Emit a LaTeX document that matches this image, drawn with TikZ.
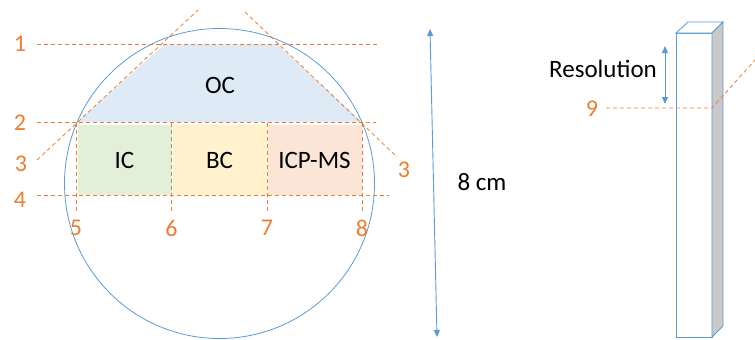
\documentclass[tikz,border=0pt]{standalone}
\usepackage{fontspec}
\setmainfont{Carlito}
\usetikzlibrary{arrows.meta}
\definecolor{orng}{HTML}{ED7D31}
\definecolor{blu}{HTML}{5B9BD5}
\definecolor{ocfill}{HTML}{DEEBF7}
\definecolor{icfill}{HTML}{E2F0D9}
\definecolor{bcfill}{HTML}{FFF2CC}
\definecolor{msfill}{HTML}{FBE5D6}
\definecolor{sidegray}{HTML}{C9C9C9}
\begin{document}
\begin{tikzpicture}[x=1pt,y=-1pt,
  orgdash/.style={draw=orng, line width=0.8pt, dash pattern=on 4pt off 3pt},
  num/.style={text=orng, font=\fontsize{24}{26}\selectfont, inner sep=0pt},
  lbl/.style={text=black, font=\fontsize{25}{28}\selectfont, inner sep=0pt},
  zone/.style={rectangle, inner sep=0pt, minimum width=94pt, minimum height=70pt, font=\fontsize{25}{28}\selectfont},
  bluarrow/.style={draw=blu, line width=0.9pt, {Triangle[width=6pt,length=7pt]}-{Triangle[width=6pt,length=7pt]}}
]
\useasboundingbox (0,0) rectangle (755,340);

% OC trapezoid
\fill[ocfill] (165,44) -- (277,44) -- (362,122) -- (77,122) -- cycle;
\node[lbl] (oc) at (220,85) {OC};

% zones
\node[zone, fill=icfill] (ic) at (124.5,160) {IC};
\node[zone, fill=bcfill] (bc) at (219.5,160) {BC};
\node[zone, fill=msfill] (ms) at (314.5,160) {ICP-MS};

% circle
\node[circle, draw=blu, line width=0.8pt, minimum size=310pt, inner sep=0pt] (disc) at (219.5,183.5) {};

% horizontal labels and lines
\node[num] (l1) at (20,44) {1};
\node[num] (l2) at (20,123) {2};
\node[num] (l3) at (21,164) {3};
\node[num] (l4) at (20,200) {4};
\node[num] (r3) at (404,170) {3};

\coordinate (h1a) at (37,44);  \coordinate (h1b) at (377,44);
\coordinate (h2a) at (37,122); \coordinate (h2b) at (376,122);
\coordinate (h4a) at (37,195); \coordinate (h4b) at (389,195);
\draw[orgdash] (h1a) -- (h1b);
\draw[orgdash] (h2a) -- (h2b);
\draw[orgdash] (h4a) -- (h4b);

% diagonals
\coordinate (d1a) at (37,160); \coordinate (d1b) at (198,10);
\coordinate (d2a) at (245,12); \coordinate (d2b) at (397,157);
\draw[orgdash] (d1a) -- (d1b);
\draw[orgdash] (d2a) -- (d2b);

% vertical lines and labels
\foreach \x/\n in {76/5,171.5/6,267/7,362/8}{
  \coordinate (v\n a) at (\x,123);
  \coordinate (v\n b) at (\x,211);
  \draw[orgdash] (v\n a) -- (v\n b);
  \node[num] (l\n) at (\x,228) {\n};
}

% 8 cm arrow
\coordinate (ta) at (430,29);
\coordinate (tb) at (437,337);
\draw[bluarrow] (ta) -- (tb);
\node[lbl] (cm) at (482,182) {8 cm};

% column
\fill[white, draw=blu, line width=0.8pt] (676,33) rectangle (712,337);
\fill[white, draw=blu, line width=0.8pt] (676,33) -- (688,22) -- (723,22) -- (712,33) -- cycle;
\fill[sidegray, draw=blu, line width=0.8pt] (712,33) -- (723,22) -- (723,326) -- (712,337) -- cycle;

% resolution
\coordinate (ra) at (665,46);
\coordinate (rb) at (665,104);
\draw[bluarrow] (ra) -- (rb);
\node[lbl] (res) at (603,69) {Resolution};
\node[num] (l9) at (592,109) {9};
\coordinate (n9a) at (606,108);
\coordinate (n9b) at (712,108);
\coordinate (n9c) at (755,60);
\draw[orgdash] (n9a) -- (n9b) -- (n9c);
\end{tikzpicture}
\end{document}
